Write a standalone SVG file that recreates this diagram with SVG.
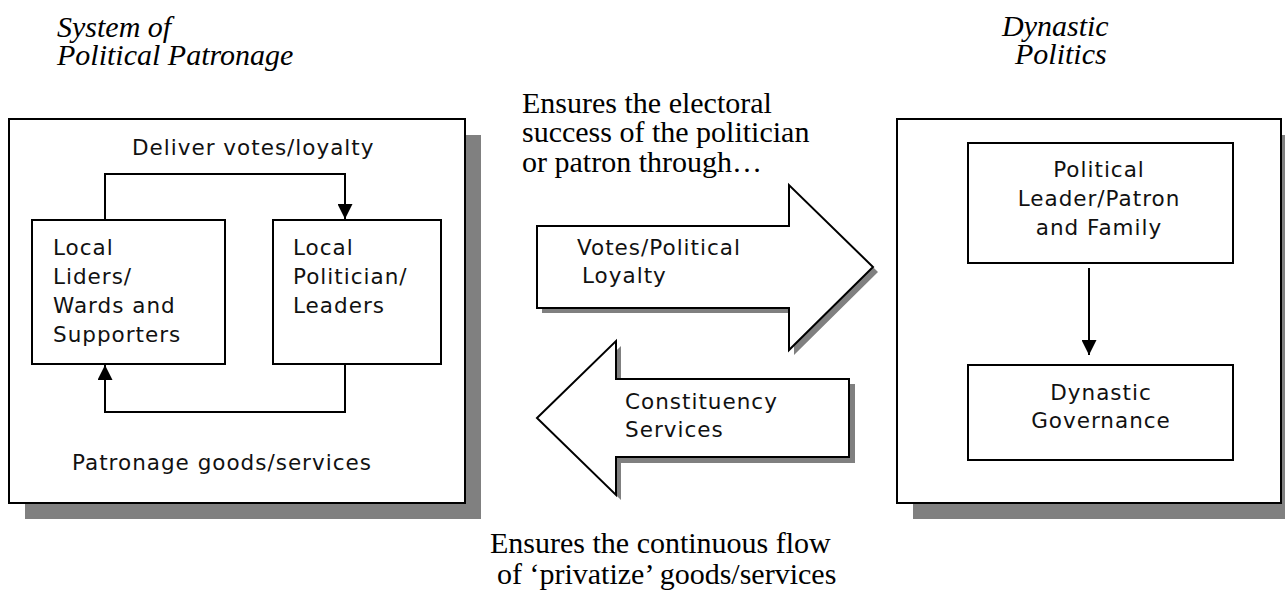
<svg xmlns="http://www.w3.org/2000/svg" width="1285" height="595" viewBox="0 0 1285 595">
<style>
.box{fill:#fff;stroke:#000;stroke-width:2}
.shadow{fill:#808080;stroke:none}
.sans{font-family:"DejaVu Sans",Verdana,sans-serif;font-size:21.5px;letter-spacing:1px;fill:#111}
.serif{font-family:"Liberation Serif","Times New Roman",serif;font-size:30px;fill:#000}
.ital{font-family:"Liberation Serif","Times New Roman",serif;font-size:30px;font-style:italic;fill:#000}
.conn{fill:none;stroke:#000;stroke-width:2}
.mid{text-anchor:middle}
</style>
<defs>
<marker id="ah" viewBox="0 0 10 10" refX="10" refY="5" markerWidth="15" markerHeight="15" markerUnits="userSpaceOnUse" orient="auto">
<path d="M0,0 L10,5 L0,10 Z" fill="#000"/>
</marker>
</defs>
<rect width="1285" height="595" fill="#fff"/>

<g id="title-left">
<text class="ital" x="57" y="37">System of</text>
<text class="ital" x="57" y="65">Political Patronage</text>
</g>
<g id="title-right">
<text class="ital" x="1002" y="36">Dynastic</text>
<text class="ital" x="1015" y="64">Politics</text>
</g>

<g id="patronage-system">
<rect class="shadow" x="25" y="135" width="456" height="384"/>
<rect class="box" x="9" y="119" width="456" height="384"/>
<text class="sans" x="132" y="155">Deliver votes/loyalty</text>
<text class="sans" x="72" y="470">Patronage goods/services</text>
</g>

<g id="local-liders">
<rect class="box" x="32" y="220" width="193" height="144"/>
<text class="sans" x="53" y="255">Local</text>
<text class="sans" x="53" y="284">Liders/</text>
<text class="sans" x="53" y="313">Wards and</text>
<text class="sans" x="53" y="342">Supporters</text>
</g>

<g id="local-politician">
<rect class="box" x="273" y="220" width="168" height="144"/>
<text class="sans" x="293" y="255">Local</text>
<text class="sans" x="293" y="284">Politician/</text>
<text class="sans" x="293" y="313">Leaders</text>
</g>

<g id="dynastic-politics">
<rect class="shadow" x="913" y="135" width="384" height="384"/>
<rect class="box" x="897" y="119" width="384" height="384"/>
</g>

<g id="leader-family">
<rect class="box" x="968" y="143" width="265" height="120"/>
<text class="sans mid" x="1099" y="177">Political</text>
<text class="sans mid" x="1099" y="206">Leader/Patron</text>
<text class="sans mid" x="1099" y="235">and Family</text>
</g>

<g id="dynastic-governance">
<rect class="box" x="968" y="365" width="265" height="95"/>
<text class="sans mid" x="1101" y="400">Dynastic</text>
<text class="sans mid" x="1101" y="428">Governance</text>
</g>

<g id="votes-arrow">
<polygon class="shadow" points="542,231 794,231 794,190 878,272 794,355 794,313 542,313"/>
<polygon class="box" points="537,226 789,226 789,185 873,267 789,350 789,308 537,308"/>
<text class="sans" x="577" y="255">Votes/Political</text>
<text class="sans" x="582" y="283">Loyalty</text>
</g>

<g id="services-arrow">
<polygon class="shadow" points="542,423 621,346 621,384 855,384 855,463 621,463 621,500"/>
<polygon class="box" points="537,418 616,341 616,379 849,379 849,457 616,457 616,495"/>
<text class="sans" x="625" y="409">Constituency</text>
<text class="sans" x="625" y="437">Services</text>
</g>

<g id="annotations">
<text class="serif" x="522" y="113">Ensures the electoral</text>
<text class="serif" x="522" y="142">success of the politician</text>
<text class="serif" x="522" y="172">or patron through…</text>
<text class="serif" x="490" y="553">Ensures the continuous flow</text>
<text class="serif" x="497" y="584">of ‘privatize’ goods/services</text>
</g>

<g id="connectors">
<path class="conn" d="M105,220 V174 H345 V219" marker-end="url(#ah)"/>
<path class="conn" d="M345,364 V412 H105 V365" marker-end="url(#ah)"/>
<path class="conn" d="M1089,268 V355" marker-end="url(#ah)"/>
</g>
</svg>
